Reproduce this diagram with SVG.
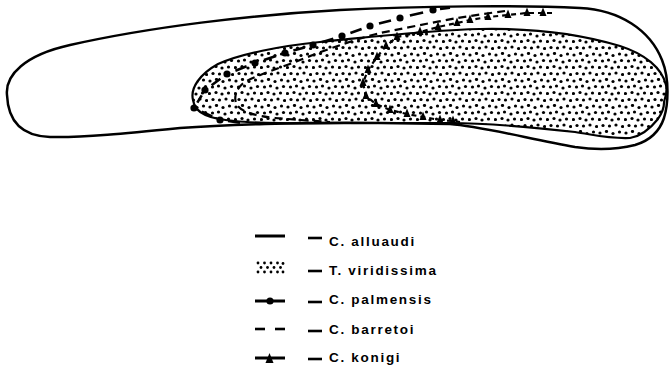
<svg xmlns="http://www.w3.org/2000/svg" width="669" height="371" viewBox="0 0 669 371">
  <style>
    .outline { fill: none; stroke: #000; stroke-width: 2.5; stroke-linejoin: round; stroke-linecap: round; }
    .border { stroke: #000; stroke-width: 2.2; stroke-linejoin: round; }
    .palm { fill: none; stroke: #000; stroke-width: 2.6; stroke-linecap: butt; }
    .barr { fill: none; stroke: #000; stroke-width: 2.2; stroke-dasharray: 8 5; }
    .koni { fill: none; stroke: #000; stroke-width: 2.2; stroke-dasharray: 5 4; }
    .key { fill: none; stroke: #000; stroke-width: 3; }
    .tick { fill: none; stroke: #000; stroke-width: 2.6; }
    .label { font-family: "Liberation Sans", Arial, sans-serif; font-weight: bold; font-size: 13.5px; letter-spacing: 1.7px; fill: #000; }
  </style>
  <defs>
    <!-- irregular stipple for the shaded range -->
    <pattern id="stipple" patternUnits="userSpaceOnUse" width="26" height="26">
      <g fill="#000">
        <circle cx="2" cy="3" r="1.6"/><circle cx="8.5" cy="1.5" r="1.6"/><circle cx="15" cy="3.5" r="1.6"/><circle cx="21.5" cy="2" r="1.6"/>
        <circle cx="4.5" cy="9" r="1.6"/><circle cx="10.5" cy="8" r="1.6"/><circle cx="17" cy="10" r="1.6"/><circle cx="23.5" cy="8.5" r="1.6"/>
        <circle cx="1.5" cy="15.5" r="1.6"/><circle cx="8" cy="14.5" r="1.6"/><circle cx="14" cy="16" r="1.6"/><circle cx="20.5" cy="15" r="1.6"/>
        <circle cx="5" cy="21.5" r="1.6"/><circle cx="11.5" cy="22" r="1.6"/><circle cx="18" cy="21" r="1.6"/><circle cx="24.5" cy="22.5" r="1.6"/>
      </g>
    </pattern>
    <marker id="dot" markerUnits="userSpaceOnUse" viewBox="-5 -5 10 10" refX="0" refY="0" markerWidth="10" markerHeight="10" orient="0">
      <circle r="3.6" fill="#000"/>
    </marker>
    <marker id="tri" markerUnits="userSpaceOnUse" viewBox="-5 -6 10 10" refX="0" refY="0" markerWidth="10" markerHeight="10" orient="0">
      <polygon points="0,-5.5 3.5,3 -3.5,3" fill="#000"/>
    </marker>
  </defs>

  <!-- T. viridissima: stippled range with its border -->
  <g id="range-viridissima">
    <path class="border" fill="url(#stipple)" d="M193,100 C190,88 200,74 218,64 C240,54 280,46 320,42 C380,36 430,30 480,29 C530,28 580,34 620,46 C645,54 662,68 666,85 C668,95 664,98 664,103 C664,108 662,113 658,119 C650,129 642,136 630,138 C610,139 595,135 575,132 C530,127 480,123 450,123 L380,123 C330,123 270,125 235,121 C210,119 195,114 193,100 Z"/>
  </g>

  <!-- C. alluaudi: outer solid outline -->
  <g id="outline-alluaudi">
    <path class="outline" d="M7,95 C5,75 25,55 70,45 C150,27 250,15 340,10 C420,6 520,5 580,8 C620,10 650,30 662,60 C670,80 668,105 664,118 C660,130 652,140 635,145 C615,150 595,150 575,147 C530,139 480,126 450,124 L380,123 C300,122 220,125 180,128 C130,133 80,138 50,137 C20,136 8,120 7,95 Z"/>
  </g>

  <!-- C. palmensis: dots joined by short dashes -->
  <g id="range-palmensis">
    <polyline fill="none" stroke="none" marker-mid="url(#dot)" points="455,7 433,10 400,18 370,26 342,36 313,45 285,53 255,63 227,74 205,90 194,108 220,120 250,124"/>
    <path class="palm" d="M450,7.7 L440,9 M423.1,12.4 L409.9,15.6 M391,20.4 L379,23.6 M361.6,29 L350.4,33 M333.3,38.7 L321.7,42.3 M304.6,47.4 L293.4,50.6 M276,56 L264,60 M246.6,66.3 L235.4,70.7 M220.4,78.8 L211.6,85.2 M201.7,95.4 L197.3,102.6 M201.8,111.6 L212.2,116.4 M228,121 L240,122.6"/>
  </g>

  <!-- C. barretoi: plain dashed line -->
  <g id="range-barretoi">
    <path class="barr" d="M505,11 C490,13 470,16 457,18 C430,23 400,29 380,33 C360,38 330,48 300,60 C280,68 255,76 245,82 C236,88 233,98 237,105 C242,112 255,116 275,118 C300,120 315,121 330,122"/>
  </g>

  <!-- C. konigi: dashed line with triangles -->
  <g id="range-konigi">
    <polyline class="koni" marker-mid="url(#tri)" points="552,13 543,13 527,13 508,15 488,17 470,20 457,23 438,27 420,32 397,37 386,46 377,57 368,70 363,83 366,96 376,104 390,110 407,114 423,117 440,120 453,121 460,122"/>
  </g>

  <!-- key -->
  <g id="legend">
    <g id="key-alluaudi">
      <line class="key" x1="255" y1="236" x2="285" y2="236"/>
      <line class="tick" x1="308" y1="238" x2="322" y2="238"/>
      <text class="label" x="329" y="246">C. alluaudi</text>
    </g>
    <g id="key-viridissima">
      <g fill="#000">
        <circle cx="258" cy="263" r="1.4"/><circle cx="264.5" cy="263" r="1.4"/><circle cx="271" cy="263" r="1.4"/><circle cx="277.5" cy="263" r="1.4"/><circle cx="283" cy="263.5" r="1.4"/>
        <circle cx="261" cy="267.5" r="1.4"/><circle cx="267.5" cy="267.5" r="1.4"/><circle cx="274" cy="267.5" r="1.4"/><circle cx="280.5" cy="267.5" r="1.4"/>
        <circle cx="258" cy="272" r="1.4"/><circle cx="264.5" cy="272" r="1.4"/><circle cx="271" cy="272" r="1.4"/><circle cx="277.5" cy="272" r="1.4"/><circle cx="283" cy="272" r="1.4"/>
      </g>
      <line class="tick" x1="308" y1="271" x2="322" y2="271"/>
      <text class="label" x="329" y="275">T. viridissima</text>
    </g>
    <g id="key-palmensis">
      <line class="key" x1="255" y1="301" x2="285" y2="301"/>
      <circle cx="270" cy="301" r="3.6" fill="#000"/>
      <line class="tick" x1="308" y1="302" x2="322" y2="302"/>
      <text class="label" x="329" y="304">C. palmensis</text>
    </g>
    <g id="key-barretoi">
      <line class="tick" x1="255" y1="329" x2="265" y2="329"/>
      <line class="tick" x1="275" y1="329" x2="285" y2="329"/>
      <line class="tick" x1="308" y1="331" x2="322" y2="331"/>
      <text class="label" x="329" y="334">C. barretoi</text>
    </g>
    <g id="key-konigi">
      <line class="key" x1="255" y1="358" x2="285" y2="358"/>
      <polygon points="269.5,353 273.5,363 265.5,363" fill="#000"/>
      <line class="tick" x1="308" y1="359" x2="322" y2="359"/>
      <text class="label" x="329" y="362">C. konigi</text>
    </g>
  </g>
</svg>
